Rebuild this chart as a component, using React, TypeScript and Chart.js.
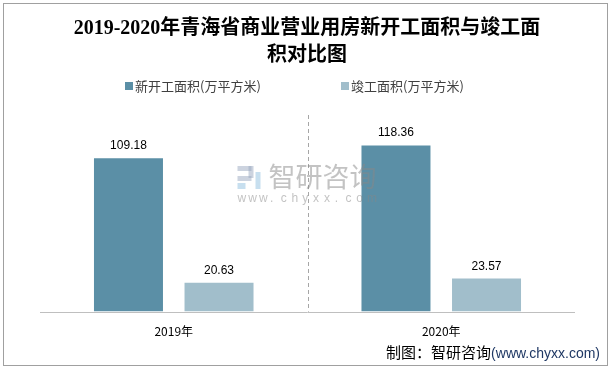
import React, { useEffect, useRef } from "react";
import { Chart, registerables } from "chart.js";

Chart.register(...registerables);

const categories = ["2019年", "2020年"];
const newStarts = [109.18, 118.36];
const completed = [20.63, 23.57];
const seriesNames = ["新开工面积(万平方米)", "竣工面积(万平方米)"];
const titleLines = ["2019-2020年青海省商业营业用房新开工面积与竣工面", "积对比图"];
const footerCn = "制图：智研咨询";
const footerUrl = "(www.chyxx.com)";
const watermarkCn = "智研咨询";
const watermarkUrl = "www.chyxx.com";

const DARK = "#5B8FA6";
const LIGHT = "#A1BECB";
const SANS = "'Liberation Sans', Arial, 'Noto Sans CJK SC', sans-serif";
const CJK = "'Noto Sans CJK SC', sans-serif";

const decorPlugin = {
  id: "decor",
  beforeDatasetsDraw(chart: any) {
    const { ctx, chartArea } = chart;
    const x = chart.scales.x;
    ctx.save();
    const mid = (x.getPixelForValue(0) + x.getPixelForValue(1)) / 2;
    ctx.strokeStyle = "#A6A6A6";
    ctx.lineWidth = 1;
    ctx.setLineDash([4, 3]);
    ctx.beginPath();
    ctx.moveTo(Math.round(mid) + 0.5, chartArea.top);
    ctx.lineTo(Math.round(mid) + 0.5, chartArea.bottom);
    ctx.stroke();
    ctx.setLineDash([]);
    ctx.restore();
  },
  afterDatasetsDraw(chart: any) {
    const { ctx, chartArea } = chart;
    ctx.save();
    const cx = (chartArea.left + chartArea.right) / 2;
    ctx.globalAlpha = 0.5;
    ctx.fillStyle = "#9aa7c0";
    ctx.fillRect(cx - 70, 166, 14, 5);
    ctx.fillRect(cx - 59, 166, 5, 12);
    ctx.fillRect(cx - 70, 176, 14, 5);
    ctx.fillStyle = "#8fc0e0";
    ctx.fillRect(cx - 70, 183, 8, 6);
    ctx.fillRect(cx - 52, 172, 5, 17);
    ctx.fillStyle = "#888";
    ctx.font = "27px " + CJK;
    ctx.textBaseline = "middle";
    ctx.textAlign = "left";
    ctx.fillText(watermarkCn, cx - 39, 177);
    ctx.font = "12px " + SANS;
    let wx = cx - 70;
    for (const ch of watermarkUrl) {
      ctx.fillText(ch, wx, 199);
      wx += 10.8;
    }
    ctx.restore();
  },
  afterDraw(chart: any) {
    const { ctx, chartArea } = chart;
    ctx.save();
    ctx.strokeStyle = "#A0A0A0";
    ctx.lineWidth = 1;
    ctx.strokeRect(3.5, 3.5, 604, 362);
    ctx.strokeStyle = "#BFBFBF";
    ctx.beginPath();
    ctx.moveTo(chartArea.left, Math.round(chartArea.bottom) + 0.5);
    ctx.lineTo(chartArea.right, Math.round(chartArea.bottom) + 0.5);
    ctx.stroke();
    ctx.fillStyle = "#000";
    ctx.textAlign = "center";
    ctx.textBaseline = "alphabetic";
    ctx.font = "bold 20px 'Liberation Serif', 'Times New Roman', 'Noto Sans CJK SC', serif";
    ctx.fillText(titleLines[0], 307, 34);
    ctx.fillText(titleLines[1], 307, 61);
    ctx.font = "13px " + CJK;
    ctx.textAlign = "left";
    ctx.textBaseline = "middle";
    const legendX = [125, 341];
    const colors = [DARK, LIGHT];
    seriesNames.forEach((n, i) => {
      ctx.fillStyle = colors[i];
      ctx.fillRect(legendX[i], 82, 8, 8);
      ctx.fillStyle = "#404040";
      ctx.fillText(n, legendX[i] + 10, 86);
    });
    ctx.fillStyle = "#000";
    ctx.font = "12px " + SANS;
    ctx.textAlign = "center";
    ctx.textBaseline = "alphabetic";
    chart.data.datasets.forEach((ds: any, di: number) => {
      const meta = chart.getDatasetMeta(di);
      meta.data.forEach((bar: any, i: number) => {
        ctx.fillText(ds.data[i].toFixed(2), bar.x, bar.y - 9);
      });
    });
    ctx.textAlign = "right";
    ctx.font = "14px " + SANS;
    ctx.fillStyle = "#1F3864";
    const urlW = ctx.measureText(footerUrl).width;
    ctx.fillText(footerUrl, 600, 358);
    ctx.font = "15px " + CJK;
    ctx.fillStyle = "#000";
    ctx.fillText(footerCn, 600 - urlW, 358);
    ctx.restore();
  },
};

export default function App() {
  const ref = useRef<HTMLCanvasElement>(null);
  useEffect(() => {
    document.body.style.margin = "0";
    const chart = new Chart(ref.current!, {
      type: "bar",
      data: {
        labels: categories,
        datasets: [
          { label: seriesNames[0], data: newStarts, backgroundColor: DARK },
          { label: seriesNames[1], data: completed, backgroundColor: LIGHT },
        ],
      },
      options: {
        animation: false,
        responsive: false,
        layout: { padding: { left: 40, right: 38, top: 115, bottom: 18 } },
        plugins: {
          legend: { display: false },
          title: { display: false },
          tooltip: { enabled: false },
        },
        datasets: { bar: { categoryPercentage: 0.677, barPercentage: 0.762 } },
        scales: {
          x: {
            grid: { display: false, drawTicks: false },
            border: { display: false },
            ticks: { color: "#000", font: { size: 12, family: CJK }, padding: 13 },
          },
          y: {
            display: false,
            min: 0,
            max: 140,
          },
        },
      },
      plugins: [decorPlugin],
    });
    return () => chart.destroy();
  }, []);
  return (
    <div style={{ width: 613, height: 370, background: "#fff" }}>
      <canvas ref={ref} width={613} height={370} style={{ display: "block" }} />
    </div>
  );
}
